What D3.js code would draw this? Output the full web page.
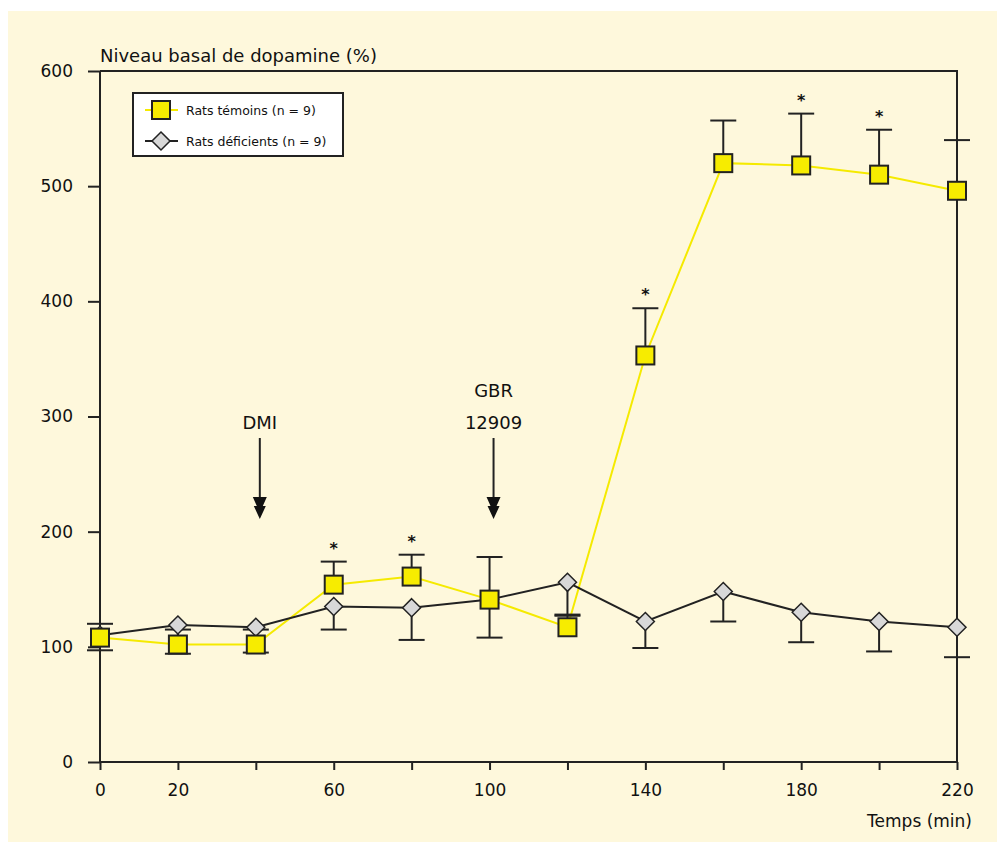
<!DOCTYPE html>
<html>
<head>
<meta charset="utf-8">
<script src="https://cdn.jsdelivr.net/npm/d3@7"></script>
<style>
  body { margin: 0; background: #fff; }
  svg text { font-family: "DejaVu Sans", sans-serif; fill: #111; }
</style>
</head>
<body>
<svg id="chart" width="997" height="842"></svg>
<script>
// data
const times = [0, 20, 40, 60, 80, 100, 120, 140, 160, 180, 200, 220];
const temoins = [108, 102, 102, 154, 161, 141, 117, 353, 520, 518, 510, 496];
const temoinsErr = [12, 13, 13, 20, 19, 37, 10, 41, 37, 45, 39, 44];
const deficients = [110, 119, 117, 135, 134, 141, 156, 122, 148, 130, 122, 117];
const deficientsErr = [13, 25, 22, 20, 28, 33, 28, 23, 26, 26, 26, 26];
const starTimes = [60, 80, 140, 180, 200];
const xTicks = [0, 20, 40, 60, 80, 100, 120, 140, 160, 180, 200, 220];
const xLabels = ["0", "20", "", "60", "", "100", "", "140", "", "180", "", "220"];
const yTicks = [0, 100, 200, 300, 400, 500, 600];
const seriesNames = ["Rats témoins (n = 9)", "Rats déficients (n = 9)"];
const arrowTimes = [40, 100];
const arrowLabels = [["DMI"], ["GBR", "12909"]];

const svg = d3.select('#chart');
svg.append('rect').attr('x', 8).attr('y', 11).attr('width', 989).attr('height', 831)
    .attr('fill', '#fef8dc');

const x = d3.scaleLinear().domain([0, 220]).range([100, 957]);
const y = d3.scaleLinear().domain([0, 600]).range([762, 71]);
const ink = '#222';

// frame (top and right sides)
svg.append('path')
    .attr('d', 'M' + x(0) + ',' + y(600) + 'H' + x(220) + 'V' + y(0))
    .attr('fill', 'none').attr('stroke', ink).attr('stroke-width', 2);

// axes
const yAxis = d3.axisLeft(y).tickValues(yTicks).tickSize(12).tickPadding(15);
const gy = svg.append('g').attr('transform', 'translate(' + x(0) + ',0)').call(yAxis);
const xAxis = d3.axisBottom(x).tickValues(xTicks).tickSize(8).tickPadding(14)
    .tickFormat((d, i) => xLabels[i]);
const gx = svg.append('g').attr('transform', 'translate(0,' + y(0) + ')').call(xAxis);
[gx, gy].forEach(g => {
    g.select('.domain').attr('stroke', ink).attr('stroke-width', 2);
    g.selectAll('.tick line').attr('stroke', ink).attr('stroke-width', 2);
    g.selectAll('.tick text').attr('font-size', 17).attr('fill', '#111')
        .style('font-family', '"DejaVu Sans", sans-serif');
});
gy.select('.domain').attr('d', 'M0,' + y(600) + 'V' + y(0));
gx.select('.domain').attr('d', 'M' + x(0) + ',0H' + x(220));
gy.selectAll('.tick line').attr('x1', 0).attr('x2', -12);

// titles
svg.append('text').attr('x', 100).attr('y', 62).attr('font-size', 18)
    .text('Niveau basal de dopamine (%)');
svg.append('text').attr('x', 972).attr('y', 827).attr('font-size', 17)
    .attr('text-anchor', 'end').text('Temps (min)');

// arrows
arrowTimes.forEach((t, i) => {
    const ax = x(t) + 4;
    const lines = arrowLabels[i];
    lines.forEach((s, j) => {
        svg.append('text').attr('x', ax).attr('y', 429 - (lines.length - 1 - j) * 32)
            .attr('font-size', 18).attr('text-anchor', 'middle').text(s);
    });
    svg.append('line').attr('x1', ax).attr('x2', ax).attr('y1', 438).attr('y2', 500)
        .attr('stroke', ink).attr('stroke-width', 2);
    svg.append('path')
        .attr('d', 'M' + (ax - 7) + ',497L' + (ax + 7) + ',497L' + (ax + 3) + ',506L' + (ax + 6) + ',506L' + ax + ',519L' + (ax - 6) + ',506L' + (ax - 3) + ',506Z')
        .attr('fill', '#111');
});

const line = d3.line().x(d => x(d[0])).y(d => y(d[1]));
const yellowPts = times.map((t, i) => [t, temoins[i]]);
const grayPts = times.map((t, i) => [t, deficients[i]]);

svg.append('path').datum(yellowPts).attr('d', line)
    .attr('fill', 'none').attr('stroke', '#f5ea00').attr('stroke-width', 2);
svg.append('path').datum(grayPts).attr('d', line)
    .attr('fill', 'none').attr('stroke', ink).attr('stroke-width', 2);

// error bars: témoins upward, déficients downward
function errBars(vals, errs, sign) {
    const g = svg.append('g').attr('stroke', ink).attr('stroke-width', 2);
    times.forEach((t, i) => {
        const end = vals[i] + sign * errs[i];
        g.append('line').attr('x1', x(t)).attr('x2', x(t)).attr('y1', y(vals[i])).attr('y2', y(end));
        g.append('line').attr('x1', x(t) - 13).attr('x2', x(t) + 13).attr('y1', y(end)).attr('y2', y(end));
    });
}
errBars(temoins, temoinsErr, 1);
errBars(deficients, deficientsErr, -1);

// significance marks
starTimes.forEach(t => {
    const i = times.indexOf(t);
    svg.append('text').attr('x', x(t)).attr('y', y(temoins[i] + temoinsErr[i]) - 8)
        .attr('font-size', 16).attr('font-weight', 'bold').attr('text-anchor', 'middle').text('*');
});

// markers
const diamond = 'M0,-9L9,0L0,9L-9,0Z';
svg.selectAll('.dia').data(grayPts).enter().append('path')
    .attr('transform', d => 'translate(' + x(d[0]) + ',' + y(d[1]) + ')')
    .attr('d', diamond).attr('fill', '#d8d8d8').attr('stroke', ink).attr('stroke-width', 1.5);
svg.selectAll('.sq').data(yellowPts).enter().append('rect')
    .attr('x', d => x(d[0]) - 9).attr('y', d => y(d[1]) - 9)
    .attr('width', 18).attr('height', 18)
    .attr('fill', '#f7ec00').attr('stroke', ink).attr('stroke-width', 2);

// legend
const lg = svg.append('g');
lg.append('rect').attr('x', 133).attr('y', 93).attr('width', 210).attr('height', 63)
    .attr('fill', '#fff').attr('stroke', ink).attr('stroke-width', 2);
seriesNames.forEach((name, i) => {
    const ly = 110 + i * 31;
    lg.append('line').attr('x1', 145).attr('x2', 178).attr('y1', ly).attr('y2', ly)
        .attr('stroke', i === 0 ? '#f5ea00' : ink).attr('stroke-width', 2);
    if (i === 0) {
        lg.append('rect').attr('x', 152).attr('y', ly - 9).attr('width', 18).attr('height', 18)
            .attr('fill', '#f7ec00').attr('stroke', ink).attr('stroke-width', 2);
    } else {
        lg.append('path').attr('transform', 'translate(161,' + ly + ')').attr('d', diamond)
            .attr('fill', '#d8d8d8').attr('stroke', ink).attr('stroke-width', 1.5);
    }
    lg.append('text').attr('x', 186).attr('y', ly + 5).attr('font-size', 12.5).text(name);
});
</script>
</body>
</html>
